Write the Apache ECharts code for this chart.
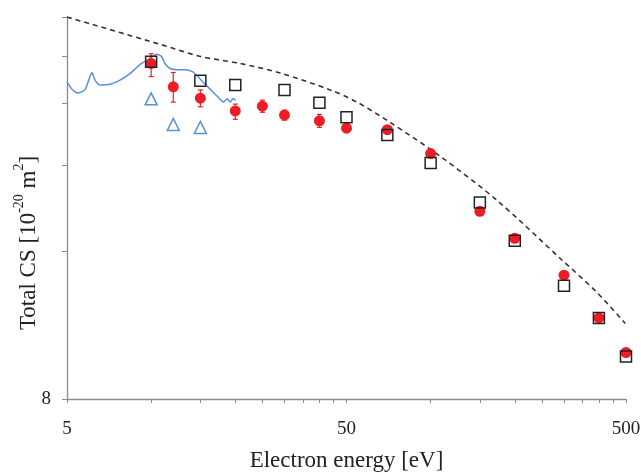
<!DOCTYPE html>
<html><head><meta charset="utf-8">
<script src="https://cdn.jsdelivr.net/npm/echarts@6/dist/echarts.min.js"></script>
<style>html,body{margin:0;padding:0;background:#fff}#c{width:641px;height:472px}</style>
</head><body><div id="c"></div>
<script>
const energySquares = [10, 15, 20, 30, 40, 50, 70, 100, 150, 200, 300, 400, 500];
const csSquares = [38.9, 35.6, 34.9, 34.1, 32.1, 30.0, 27.6, 24.2, 20.1, 16.8, 13.6, 11.7, 9.76];
const energyCircles = [10, 12, 15, 20, 25, 30, 40, 50, 70, 100, 150, 200, 300, 400, 500];
const csCircles = [38.6, 34.6, 32.8, 30.9, 31.6, 30.3, 29.5, 28.5, 28.3, 25.3, 19.3, 17.0, 14.3, 11.7, 9.95];
const errLow = [36.3, 32.2, 31.5, 29.7, 30.7, 29.6, 28.6, 28.0, 27.8, 24.9, 19.0, 16.8, 14.1, 11.5, 9.8];
const errHigh = [40.4, 37.0, 34.1, 31.9, 32.5, 31.0, 30.4, 29.0, 28.8, 25.7, 19.6, 17.2, 14.5, 11.9, 10.1];
const energyTriangles = [10, 12, 15];
const csTriangles = [32.7, 29.0, 28.6];
const energyLine = [5.0, 5.21, 5.47, 5.80, 6.04, 6.14, 6.30, 6.56, 7.12, 7.74, 8.40, 9.12, 9.75, 10.5, 10.9, 11.2, 11.7, 12.4, 13.2, 14.1, 14.7, 15.6, 16.6, 17.6, 18.1, 18.7, 19.2, 19.6, 20.1];
const csLine = [35.4, 34.2, 33.6, 34.1, 36.3, 37.0, 35.7, 34.9, 35.0, 35.7, 36.8, 38.4, 39.3, 40.3, 39.9, 38.6, 37.7, 37.5, 37.5, 37.1, 36.3, 35.0, 33.8, 32.7, 32.2, 32.7, 32.2, 32.7, 32.5];
const energyDashed = [5, 10.8, 15, 20.8, 29, 43.7, 54.5, 71.5, 108, 173, 297, 393, 497];
const csDashed = [48, 42.2, 39.9, 38.6, 36.9, 34.1, 32.2, 29.3, 25.0, 20.3, 15.3, 13.2, 11.4];
const xTicks = [5, 10, 15, 20, 25, 30, 35, 40, 45, 50, 100, 150, 200, 250, 300, 350, 400, 450, 500];
const xLabels = [5, 50, 500];
const yTicks = [8, 16, 24, 32, 40, 48];
const yLabels = [8];

const FONT = 'Liberation Serif';
const AXIS = '#8c8c8c';
const RED = '#ee1c24';
const BLUE = '#5b8fd6';
const zip = (a, b) => a.map((v, i) => [v, b[i]]);

const chart = echarts.init(document.getElementById('c'));
chart.setOption({
  animation: false,
  backgroundColor: '#fff',
  grid: { left: 67, right: 15, top: 17, bottom: 73, containLabel: false, outerBoundsMode: 'none' },
  xAxis: {
    type: 'log', logBase: 10, min: 5, max: 500,
    axisLine: { lineStyle: { color: AXIS, width: 1.3 } },
    axisTick: { customValues: xTicks, length: 4, lineStyle: { color: AXIS, width: 1 } },
    axisLabel: { customValues: xLabels, margin: 21, fontFamily: FONT, fontSize: 19, color: '#222' },
    splitLine: { show: false },
    name: 'Electron energy [eV]', nameLocation: 'middle', nameGap: 50, nameMoveOverlap: false,
    nameTextStyle: { fontFamily: FONT, fontSize: 23, color: '#222' }
  },
  yAxis: {
    type: 'log', logBase: 10, min: 8, max: 48,
    axisLine: { show: true, lineStyle: { color: AXIS, width: 1.3 } },
    axisTick: { show: true, customValues: yTicks, length: 5, lineStyle: { color: AXIS, width: 1 } },
    axisLabel: { customValues: yLabels, margin: 16, fontFamily: FONT, fontSize: 19, color: '#222' },
    splitLine: { show: false },
    name: '{a|Total CS [10}{s|-20}{a| m}{s|2}{a|]}',
    nameLocation: 'middle', nameGap: 27, nameMoveOverlap: false,
    nameTextStyle: {
      padding: [0, 70, 0, 0],
      rich: {
        a: { fontFamily: FONT, fontSize: 23, color: '#222', lineHeight: 28, verticalAlign: 'bottom' },
        s: { fontFamily: FONT, fontSize: 14, color: '#222', lineHeight: 28, verticalAlign: 'top' }
      }
    }
  },
  series: [
    {
      type: 'line', data: zip(energyLine, csLine), showSymbol: false, smooth: 0.2,
      lineStyle: { color: BLUE, width: 1.5 }, z: 2
    },
    {
      type: 'line', data: zip(energyDashed, csDashed), showSymbol: false, smooth: 0.3,
      lineStyle: { color: '#333', width: 1.6, type: [5, 4] }, z: 2
    },
    {
      type: 'scatter', data: zip(energyTriangles, csTriangles), symbol: 'triangle', symbolSize: 12,
      itemStyle: { color: 'transparent', borderColor: BLUE, borderWidth: 1.5, opacity: 1 }, z: 3
    },
    {
      type: 'custom', z: 4,
      data: energyCircles.map((x, i) => [x, errLow[i], errHigh[i]]),
      encode: { x: 0, y: [1, 2] },
      renderItem: (params, api) => {
        const lo = api.coord([api.value(0), api.value(1)]);
        const hi = api.coord([api.value(0), api.value(2)]);
        const w = 2.5;
        const st = { stroke: RED, lineWidth: 1.2 };
        return {
          type: 'group', children: [
            { type: 'line', shape: { x1: lo[0], y1: lo[1], x2: hi[0], y2: hi[1] }, style: st },
            { type: 'line', shape: { x1: lo[0] - w, y1: lo[1], x2: lo[0] + w, y2: lo[1] }, style: st },
            { type: 'line', shape: { x1: hi[0] - w, y1: hi[1], x2: hi[0] + w, y2: hi[1] }, style: st }
          ]
        };
      }
    },
    {
      type: 'scatter', data: zip(energyCircles, csCircles), symbol: 'circle', symbolSize: 11,
      itemStyle: { color: RED, opacity: 1 }, z: 5
    },
    {
      type: 'scatter', data: zip(energySquares, csSquares), symbol: 'rect', symbolSize: 11,
      itemStyle: { color: 'transparent', borderColor: '#222', borderWidth: 1.5, opacity: 1 }, z: 6
    }
  ]
});
</script>
</body></html>
